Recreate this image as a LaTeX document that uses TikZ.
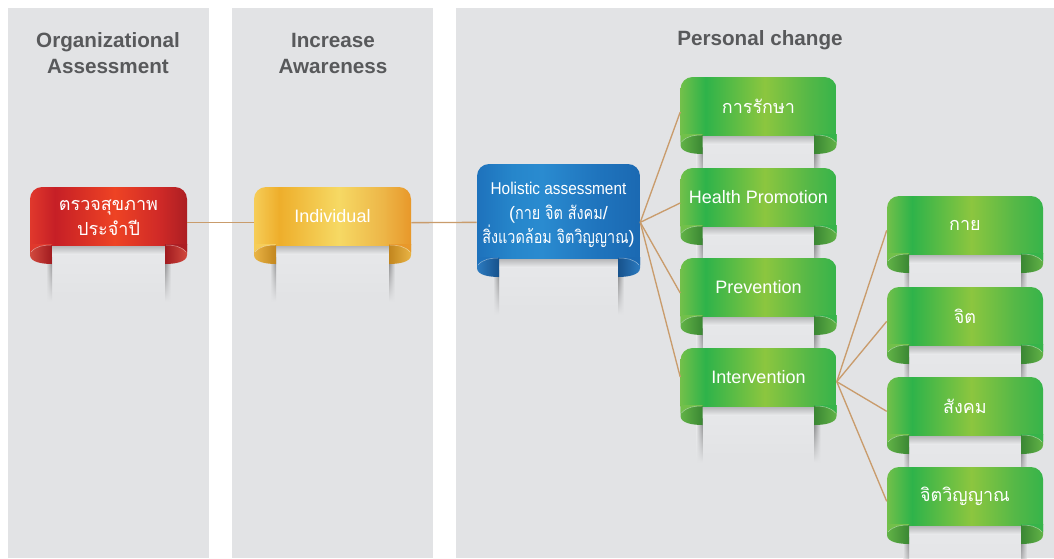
\documentclass[tikz,border=0pt]{standalone}
\usepackage{fontspec}
\setmainfont{Liberation Sans}
\newfontfamily\thaifont[Script=Thai]{Loma}
\newfontfamily\thaicond[Script=Thai, FakeStretch=0.8]{Loma}
\newfontfamily\sanscond[FakeStretch=0.9]{Liberation Sans}
\usepackage{xcolor}
\usetikzlibrary{positioning,calc,fadings}
\newcommand{\thtxt}[1]{{\thaifont #1}}
\newcommand{\thcond}[1]{{\thaicond #1}}

\definecolor{panel}{HTML}{E2E3E5}
\definecolor{paper}{HTML}{E8E9EB}
\definecolor{headgray}{HTML}{58595B}
\definecolor{linktan}{HTML}{C99C6C}
% band colours
\definecolor{redA}{HTML}{E0382C}\definecolor{redB}{HTML}{C61F26}\definecolor{redC}{HTML}{EE4324}
\definecolor{redD}{HTML}{D02A27}\definecolor{redE}{HTML}{AC1E23}
\definecolor{redout}{HTML}{D24A3E}\definecolor{redin}{HTML}{A01A1F}
\definecolor{yellowA}{HTML}{F6CD58}\definecolor{yellowB}{HTML}{EEAE2B}\definecolor{yellowC}{HTML}{F6D964}
\definecolor{yellowD}{HTML}{EDB648}\definecolor{yellowE}{HTML}{E8982A}
\definecolor{yellowout}{HTML}{E9B445}\definecolor{yellowin}{HTML}{C2861E}
\definecolor{blueA}{HTML}{1E72BC}\definecolor{blueB}{HTML}{2686CB}\definecolor{blueC}{HTML}{2A8BD0}
\definecolor{blueD}{HTML}{1F74BD}\definecolor{blueE}{HTML}{1B69B2}
\definecolor{blueout}{HTML}{2C7BC0}\definecolor{bluein}{HTML}{17528C}
\definecolor{greenA}{HTML}{72C04A}\definecolor{greenB}{HTML}{2EB34A}\definecolor{greenC}{HTML}{8CC63F}
\definecolor{greenD}{HTML}{55B847}\definecolor{greenE}{HTML}{36B44A}
\definecolor{greenout}{HTML}{62B347}\definecolor{greenin}{HTML}{3A8733}

\pgfdeclarehorizontalshading{bandred}{100bp}{color(0bp)=(redA); color(25bp)=(redA); color(33bp)=(redB); color(52bp)=(redC); color(66bp)=(redD); color(75bp)=(redE); color(100bp)=(redE)}
\pgfdeclarehorizontalshading{bandyellow}{100bp}{color(0bp)=(yellowA); color(25bp)=(yellowA); color(33bp)=(yellowB); color(52bp)=(yellowC); color(66bp)=(yellowD); color(75bp)=(yellowE); color(100bp)=(yellowE)}
\pgfdeclarehorizontalshading{bandblue}{100bp}{color(0bp)=(blueA); color(25bp)=(blueA); color(36bp)=(blueB); color(45bp)=(blueC); color(62bp)=(blueD); color(75bp)=(blueE); color(100bp)=(blueE)}
\pgfdeclarehorizontalshading{bandgreen}{100bp}{color(0bp)=(greenA); color(25bp)=(greenA); color(33bp)=(greenB); color(52bp)=(greenC); color(66bp)=(greenD); color(75bp)=(greenE); color(100bp)=(greenE)}

\tikzset{
  head/.style={font=\bfseries\fontsize{15.5pt}{19.5pt}\selectfont, text=headgray, align=center},
  tag/.style={inner sep=0pt, align=center, text=white, font=\fontsize{13.5pt}{18.5pt}\selectfont},
  link/.style={draw=linktan, line width=1pt},
}

% [#1 node options], #2 name, #3 left, #4 top, #5 width, #6 band height, #7 colour, #8 text
\newcommand{\ribbon}[8][]{%
  \fill[paper, path fading=south] (#3+22,#4+#6) rectangle (#3+#5-22,#4+#6+56);
  \shade[top color=black!22!panel, bottom color=paper] (#3+22,#4+#6) rectangle (#3+#5-22,#4+#6+9);
  \shade[left color=panel, right color=black!40!panel, path fading=south] (#3+16,#4+#6+12) rectangle (#3+22,#4+#6+56);
  \shade[left color=black!40!panel, right color=panel, path fading=south] (#3+#5-22,#4+#6+12) rectangle (#3+#5-16,#4+#6+56);
  \begin{scope}
    \clip (#3,#4) rectangle (#3+#5,#4+#6);
    \shade[shading=band#7, rounded corners=9pt] (#3,#4) rectangle (#3+#5,#4+#6+12);
  \end{scope}
  \shade[left color=#7out, right color=#7in] (#3,#4+#6-1) -- (#3,#4+#6+10)
    .. controls (#3,#4+#6+17) and (#3+12,#4+#6+19) .. (#3+22,#4+#6+19) -- (#3+22,#4+#6-1) -- cycle;
  \shade[left color=#7in, right color=#7out] (#3+#5,#4+#6-1) -- (#3+#5,#4+#6+10)
    .. controls (#3+#5,#4+#6+17) and (#3+#5-12,#4+#6+19) .. (#3+#5-22,#4+#6+19) -- (#3+#5-22,#4+#6-1) -- cycle;
  \fill[#7A] (#3,#4+#6-1) -- (#3,#4+#6+7) .. controls (#3+5,#4+#6+1) and (#3+14,#4+#6) .. (#3+22,#4+#6) -- (#3+22,#4+#6-1) -- cycle;
  \fill[#7E] (#3+#5,#4+#6-1) -- (#3+#5,#4+#6+7) .. controls (#3+#5-5,#4+#6+1) and (#3+#5-14,#4+#6) .. (#3+#5-22,#4+#6) -- (#3+#5-22,#4+#6-1) -- cycle;
  \draw[white, opacity=.45, line width=.4pt] (#3+1,#4+#6+7) .. controls (#3+6,#4+#6+1) and (#3+14,#4+#6) .. (#3+21,#4+#6);
  \draw[white, opacity=.45, line width=.4pt] (#3+#5-1,#4+#6+7) .. controls (#3+#5-6,#4+#6+1) and (#3+#5-14,#4+#6) .. (#3+#5-21,#4+#6);
  \node[tag, minimum width=#5*0.75pt, minimum height=#6*0.75pt, #1] (#2) at (#3+#5/2,#4+#6/2) {#8};
}

\begin{document}
\begin{tikzpicture}[x=0.75pt, y=-0.75pt]
\useasboundingbox (0,0) rectangle (1054,558);
\fill[white] (0,0) rectangle (1054,558);
% columns
\fill[panel] (8,8) rectangle (209,558);
\fill[panel] (232,8) rectangle (433,558);
\fill[panel] (456,8) rectangle (1054,558);
\node[head] (hOrg) at (108,53) {Organizational\\Assessment};
\node[head] (hAwa) at (333,53) {Increase\\Awareness};
\node[head] (hPer) at (760,40) {Personal change};
% ribbons
\ribbon[yshift=-1.5pt]{org}{30}{187}{157}{58}{red}{\thtxt{ตรวจสุขภาพ}\\\thtxt{ประจำปี}}
\ribbon{ind}{254}{187}{157}{58}{yellow}{Individual}
\ribbon[yshift=-3pt]{hol}{477}{164}{163}{94}{blue}{\fontsize{12.8pt}{18.4pt}\sanscond Holistic assessment\\(\thcond{กาย จิต สังคม}/\\\thcond{สิ่งแวดล้อม จิตวิญญาณ})}
\foreach \nm/\ty/\tx in {cure/77/\thtxt{การรักษา}, hp/168/Health Promotion, prev/258/Prevention, intv/348/Intervention}
  {\ribbon{\nm}{680.5}{\ty}{156}{58}{green}{\tx}}
\foreach \nm/\ty/\tx in {body/196/กาย, mind/287/จิต, social/377/สังคม, spirit/467/จิตวิญญาณ}
  {\ribbon{\nm}{887}{\ty}{156}{58}{green}{\thtxt{\tx}}}
% connectors
\draw[link] ([yshift=-3.5pt]org.east) -- ([yshift=-5pt]ind.west);
\draw[link] ([yshift=-5pt]ind.east) -- ([yshift=-5.5pt]hol.west);
\foreach \t in {cure,hp,prev}
  \draw[link] ([yshift=-5.5pt]hol.east) -- ([yshift=-4.5pt]\t.west);
\draw[link] ([yshift=-5.5pt]hol.east) -- (intv.west);
\foreach \t in {body,mind,social,spirit}
  \draw[link] ([yshift=-3.5pt]intv.east) -- ([yshift=-4pt]\t.west);
\end{tikzpicture}
\end{document}
